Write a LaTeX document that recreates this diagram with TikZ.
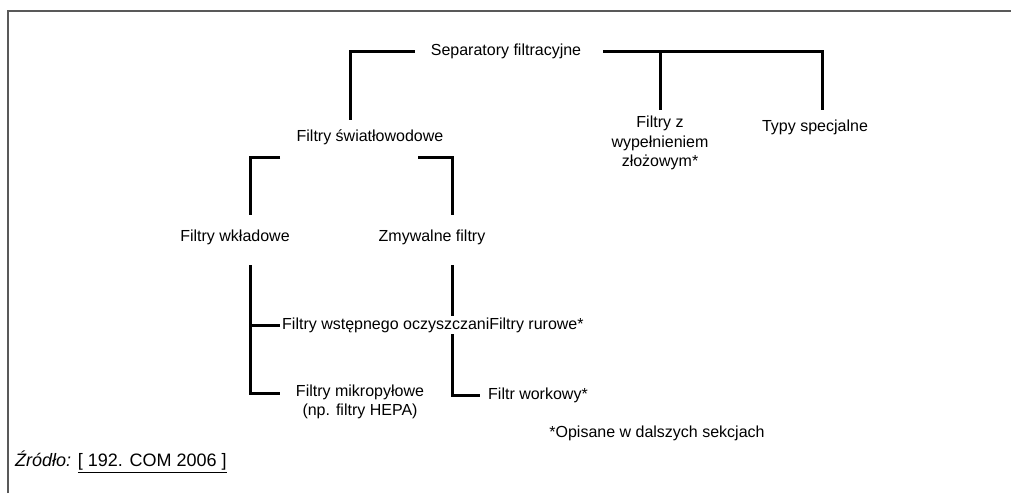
\documentclass[tikz,border=0pt]{standalone}
\usepackage{fontspec}
\setmainfont{Liberation Sans}
\usetikzlibrary{positioning}
\usetikzlibrary{backgrounds}

\begin{document}
\begin{tikzpicture}[x=1pt, y=-1pt,
        box/.style={font=\fontsize{16}{19.5}\selectfont, inner sep=2pt, fill=white, align=center},
        link/.style={black, line width=3pt},
        frame/.style={black!65, line width=2pt}]
        \useasboundingbox (0,0) rectangle (1011,493);
        \draw[frame] (7.5,493) |- (1011,10.5);

        \node[box] (sep) at (506, 51) {Separatory filtracyjne};
        \node[box] (swiat) at (370, 137) {Filtry światłowodowe};
        \node[box] (zloz) at (660, 143) {Filtry z\\ wypełnieniem\\ złożowym*};
        \node[box] (typy) at (815, 127) {Typy specjalne};
        \node[box] (wkl) at (235, 237) {Filtry wkładowe};
        \node[box] (zmyw) at (432, 237) {Zmywalne filtry};
        \node[box, anchor=west] (wst) at (280, 325) {Filtry wstępnego oczyszczaniFiltry rurowe*};
        \node[box] (mikro) at (360, 402) {Filtry mikropyłowe\\ (np. filtry HEPA)};
        \node[box, anchor=west] (work) at (486, 395) {Filtr workowy*};
        \node[box] (opis) at (657, 433) {*Opisane w dalszych sekcjach};
        \node[box, anchor=west, font=\fontsize{18}{21}\selectfont] (zrodlo) at (13, 462)
            {\textit{Źródło:} \underline{[ 192. COM 2006 ]}};

        \begin{scope}[on background layer]
        \draw[link] ([xshift=-14]sep.west) -| ([xshift=-20,yshift=7.5]swiat.north);
        \draw[link] ([xshift=20]sep.east) -| ([xshift=7,yshift=7.5]typy.north);
        \draw[link] (sep.east -| zloz.north) -- ([yshift=4]zloz.north);
        \draw[link] ([xshift=-90,yshift=-10.5]swiat.south) -| ([xshift=15,yshift=12.5]wkl.north);
        \draw[link] ([xshift=48,yshift=-10.5]swiat.south) -| ([xshift=20,yshift=12.5]zmyw.north);
        \draw[link] ([xshift=15,yshift=-18.5]wkl.south) |- ([xshift=-14,yshift=9]mikro.west);
        \draw[link] (wst.west) -- ++(-30,0);
        \draw[link] ([xshift=20,yshift=-18.5]zmyw.south) |- ([xshift=-6]work.west);
        \end{scope}
\end{tikzpicture}
\end{document}
